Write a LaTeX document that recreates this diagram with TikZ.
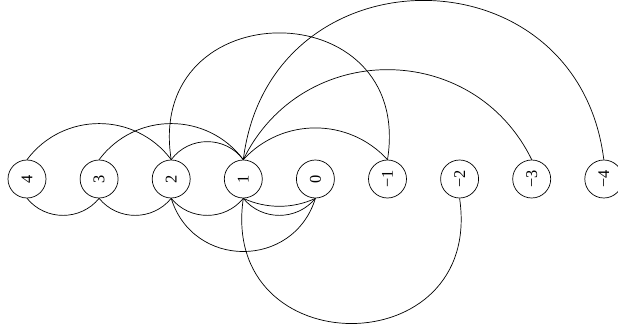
\documentclass[tikz,border=0pt]{standalone}
\usepackage{fontspec}
\setmainfont{Liberation Serif}
\usepackage{graphicx}
\usepackage{tikz}

\begin{document}
\begin{tikzpicture}[
  x=0.03cm, y=0.03cm,
  num/.style={draw, circle, minimum size=1.14cm, inner sep=0pt, line width=0.6pt, font=\fontsize{14}{16}\selectfont},
  link/.style={line width=0.6pt}
]
\useasboundingbox (0,0) rectangle (618,331);

% vertices in a row
\foreach \name/\lab [count=\k from 0] in {n4/4, n3/3, n2/2, n1/1, n0/0, nm1/−1, nm2/−2, nm3/−3, nm4/−4}
  \node[num] (\name) at ({27+72.1*\k}, 152) {\rotatebox{90}{\lab}};

% arcs above
\draw[link] (n4.north) .. controls +(36.1,48.1) and +(-36.1,48.1) .. (n2.north);
\draw[link] (n3.north) .. controls +(36.1,48.1) and +(-36.1,48.1) .. (n1.north);
\draw[link] (n2.north) .. controls +(18,24) and +(-18,24) .. (n1.north);
\draw[link] (n2.north) .. controls +(-26.8,169) and +(26.8,169) .. (nm1.north);
\draw[link] (n1.north) .. controls +(38.8,42.3) and +(-38.8,42.3) .. (nm1.north);
\draw[link] (n1.north) .. controls +(58.6,120) and +(-58.6,120) .. (nm3.north);
\draw[link] (n1.north) .. controls +(26.4,212.3) and +(-26.4,212.3) .. (nm4.north);

% arcs below
\draw[link] (n4.south) .. controls +(18.5,-22.7) and +(-18.5,-22.7) .. (n3.south);
\draw[link] (n3.south) .. controls +(18.5,-22.7) and +(-18.5,-22.7) .. (n2.south);
\draw[link] (n2.south) .. controls +(18.5,-22.7) and +(-18.5,-22.7) .. (n1.south);
\draw[link] (n2.south) .. controls +(21.9,-70.9) and +(-21.9,-70.9) .. (n0.south);
\draw[link] (n1.south) .. controls +(22.8,-10.6) and +(-22.8,-10.6) .. (n0.south);
\draw[link] (n1.south) .. controls +(18.5,-22.7) and +(-18.5,-22.7) .. (n0.south);
\draw[link] (n1.south) .. controls +(-24.4,-166.9) and +(24.4,-166.9) .. (nm2.south);
\end{tikzpicture}
\end{document}
